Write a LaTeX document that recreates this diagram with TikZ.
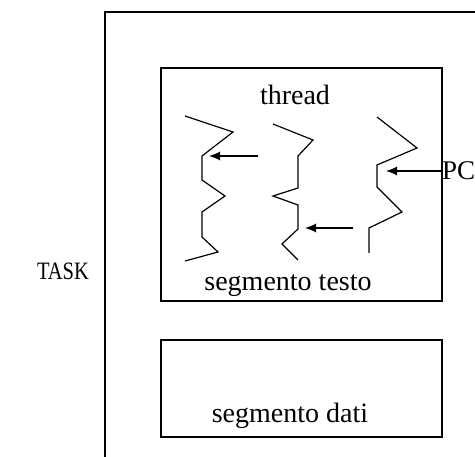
\documentclass[tikz,border=0pt]{standalone}
\usepackage{fontspec}
\setmainfont{Liberation Serif}
\usetikzlibrary{arrows.meta}

\begin{document}
\begin{tikzpicture}[x=1pt, y=-1pt,
        frame/.style={draw, line width=1.2pt},
        lbl/.style={font=\fontsize{28}{32}\selectfont, anchor=base, inner sep=0pt},
        strand/.style={line width=1.2pt, line join=miter},
        ptr/.style={-{Latex[length=11pt, width=9pt]}, line width=1.2pt}
    ]
        \useasboundingbox (0,0) rectangle (475,457);

        % TASK
        \draw[frame] (475,12) -- (105,12) -- (105,457);
        \node[lbl, font=\fontsize{25}{30}\selectfont] (task) at (63,280) {\scalebox{0.82}[1]{TASK}};

        % segmento testo
        \draw[frame] (161,68) rectangle (442,301);
        \node[lbl] (thread) at (295,105) {thread};
        \node[lbl] (testo) at (288,291) {segmento testo};

        % segmento dati
        \draw[frame] (161,340) rectangle (442,437);
        \node[lbl] (dati) at (290,423) {segmento dati};

        % threads
        \draw[strand] (185,116) -- (233,132) -- (202,156) -- (202,180) -- (225,196)
            -- (202,212) -- (202,237) -- (218,252) -- (185,261);
        \draw[strand] (273,124) -- (313,140) -- (298,156) -- (298,188) -- (273,196)
            -- (298,205) -- (298,229) -- (282,244) -- (298,260);
        \draw[strand] (377,117) -- (417,148) -- (377,165) -- (377,187) -- (402,212)
            -- (369,228) -- (369,253);

        % program counters
        \coordinate (s1) at (258,156);
        \coordinate (t1) at (209,156);
        \coordinate (s2) at (353,228);
        \coordinate (t2) at (305,228);
        \node[font=\fontsize{27}{32}\selectfont, anchor=west, inner sep=0pt] (pc) at (442,171) {PC};
        \coordinate (t3) at (386,171);
        \draw[ptr] (s1) -- (t1);
        \draw[ptr] (s2) -- (t2);
        \draw[ptr] (pc.west) -- (t3);
    \end{tikzpicture}
\end{document}
